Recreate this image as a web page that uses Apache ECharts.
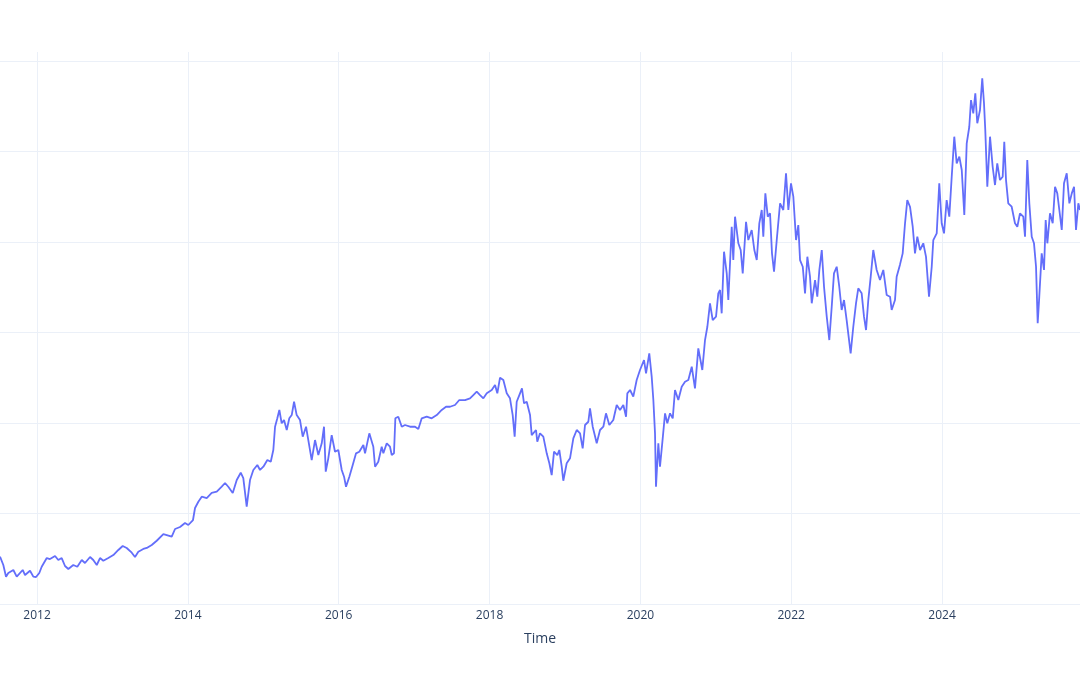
<!DOCTYPE html>
<html>
<head>
<meta charset="utf-8">
<script src="https://cdn.jsdelivr.net/npm/echarts@6/dist/echarts.min.js"></script>
<style>
  html, body { margin: 0; padding: 0; background: #fff; }
  #chart { width: 1080px; height: 675px; }
</style>
</head>
<body>
<div id="chart"></div>
<script>
// time as decimal years
const times = [
  2011.509, 2011.553, 2011.589, 2011.619, 2011.686, 2011.708, 2011.731, 2011.752, 2011.810, 2011.841,
  2011.907, 2011.951, 2011.987, 2012.030, 2012.062, 2012.129, 2012.172, 2012.239, 2012.282, 2012.327,
  2012.371, 2012.415, 2012.481, 2012.534, 2012.593, 2012.636, 2012.703, 2012.746, 2012.792, 2012.835,
  2012.879, 2012.945, 2013.012, 2013.078, 2013.136, 2013.189, 2013.256, 2013.299, 2013.343, 2013.409,
  2013.455, 2013.521, 2013.587, 2013.675, 2013.720, 2013.786, 2013.830, 2013.896, 2013.962, 2014.006,
  2014.068, 2014.095, 2014.139, 2014.184, 2014.250, 2014.316, 2014.383, 2014.449, 2014.493, 2014.536,
  2014.595, 2014.648, 2014.701, 2014.735, 2014.780, 2014.824, 2014.868, 2014.921, 2014.957, 2015.001,
  2015.054, 2015.099, 2015.133, 2015.156, 2015.186, 2015.213, 2015.244, 2015.275, 2015.311, 2015.345,
  2015.377, 2015.408, 2015.443, 2015.487, 2015.523, 2015.567, 2015.597, 2015.642, 2015.686, 2015.730,
  2015.775, 2015.805, 2015.828, 2015.862, 2015.907, 2015.951, 2015.995, 2016.040, 2016.071, 2016.097,
  2016.141, 2016.186, 2016.230, 2016.273, 2016.327, 2016.349, 2016.406, 2016.459, 2016.482, 2016.525,
  2016.570, 2016.592, 2016.637, 2016.680, 2016.703, 2016.733, 2016.751, 2016.790, 2016.836, 2016.879,
  2016.946, 2017.012, 2017.056, 2017.101, 2017.167, 2017.233, 2017.300, 2017.366, 2017.423, 2017.476,
  2017.542, 2017.599, 2017.675, 2017.741, 2017.785, 2017.830, 2017.874, 2017.918, 2017.963, 2018.029,
  2018.073, 2018.103, 2018.139, 2018.183, 2018.228, 2018.271, 2018.307, 2018.333, 2018.360, 2018.395,
  2018.430, 2018.457, 2018.493, 2018.537, 2018.559, 2018.616, 2018.633, 2018.669, 2018.713, 2018.758,
  2018.793, 2018.824, 2018.855, 2018.899, 2018.925, 2018.957, 2018.978, 2019.023, 2019.067, 2019.111,
  2019.156, 2019.200, 2019.235, 2019.266, 2019.310, 2019.332, 2019.368, 2019.421, 2019.465, 2019.509,
  2019.544, 2019.588, 2019.641, 2019.686, 2019.730, 2019.774, 2019.810, 2019.827, 2019.863, 2019.906,
  2019.951, 2019.995, 2020.048, 2020.075, 2020.118, 2020.150, 2020.172, 2020.194, 2020.207, 2020.238,
  2020.260, 2020.296, 2020.327, 2020.357, 2020.393, 2020.429, 2020.459, 2020.503, 2020.548, 2020.592,
  2020.636, 2020.681, 2020.724, 2020.768, 2020.821, 2020.857, 2020.888, 2020.923, 2020.959, 2021.003,
  2021.033, 2021.056, 2021.078, 2021.109, 2021.145, 2021.166, 2021.211, 2021.232, 2021.255, 2021.299,
  2021.330, 2021.357, 2021.401, 2021.431, 2021.476, 2021.511, 2021.543, 2021.577, 2021.609, 2021.630,
  2021.657, 2021.689, 2021.719, 2021.745, 2021.772, 2021.808, 2021.852, 2021.895, 2021.931, 2021.962,
  2021.997, 2022.028, 2022.064, 2022.094, 2022.117, 2022.153, 2022.183, 2022.214, 2022.249, 2022.272,
  2022.316, 2022.346, 2022.373, 2022.405, 2022.435, 2022.471, 2022.505, 2022.537, 2022.567, 2022.603,
  2022.637, 2022.669, 2022.700, 2022.735, 2022.756, 2022.788, 2022.823, 2022.859, 2022.889, 2022.934,
  2022.965, 2022.992, 2023.022, 2023.054, 2023.088, 2023.133, 2023.177, 2023.221, 2023.266, 2023.310,
  2023.332, 2023.376, 2023.398, 2023.442, 2023.478, 2023.509, 2023.539, 2023.575, 2023.611, 2023.641,
  2023.672, 2023.708, 2023.751, 2023.787, 2023.827, 2023.863, 2023.884, 2023.929, 2023.963, 2023.995,
  2024.026, 2024.061, 2024.096, 2024.128, 2024.162, 2024.194, 2024.229, 2024.261, 2024.295, 2024.327,
  2024.361, 2024.384, 2024.414, 2024.441, 2024.467, 2024.503, 2024.533, 2024.556, 2024.573, 2024.600,
  2024.636, 2024.671, 2024.702, 2024.732, 2024.768, 2024.804, 2024.825, 2024.848, 2024.878, 2024.923,
  2024.967, 2024.998, 2025.033, 2025.077, 2025.100, 2025.130, 2025.157, 2025.189, 2025.219, 2025.246,
  2025.268, 2025.289, 2025.321, 2025.352, 2025.374, 2025.396, 2025.431, 2025.467, 2025.498, 2025.528,
  2025.555, 2025.587, 2025.617, 2025.653, 2025.688, 2025.720, 2025.750, 2025.776, 2025.807, 2025.829
]

const values = [
  5.23, 4.31, 3.02, 3.43, 3.76, 3.98, 3.02, 2.87, 3.76, 3.20,
  3.68, 3.02, 2.98, 3.43, 4.12, 5.08, 4.97, 5.30, 4.86, 5.08,
  4.20, 3.87, 4.31, 4.12, 4.86, 4.53, 5.19, 4.86, 4.31, 5.08,
  4.78, 5.08, 5.41, 5.97, 6.41, 6.19, 5.67, 5.19, 5.78, 6.08,
  6.19, 6.52, 6.99, 7.73, 7.62, 7.44, 8.29, 8.51, 8.95, 8.73,
  9.28, 10.61, 11.30, 11.86, 11.71, 12.27, 12.41, 12.96, 13.37, 12.96,
  12.27, 13.70, 14.51, 13.92, 10.75, 13.70, 14.81, 15.36, 14.81, 15.17,
  15.91, 15.72, 17.02, 19.59, 20.52, 21.44, 19.97, 20.33, 19.23, 20.52,
  20.88, 22.35, 20.88, 20.33, 18.49, 19.59, 18.12, 15.91, 18.12, 16.46,
  17.76, 19.59, 14.62, 16.10, 18.67, 16.83, 17.02, 14.81, 14.07, 12.96,
  14.07, 15.36, 16.65, 16.83, 17.57, 16.65, 18.86, 17.38, 15.17, 15.72,
  17.38, 16.65, 17.76, 17.38, 16.46, 16.65, 20.52, 20.70, 19.59, 19.78,
  19.59, 19.59, 19.34, 20.52, 20.70, 20.52, 20.88, 21.44, 21.80, 21.80,
  21.99, 22.54, 22.54, 22.73, 23.09, 23.46, 23.09, 22.73, 23.28, 23.65,
  24.20, 23.28, 25.01, 24.75, 23.28, 22.73, 20.88, 18.49, 22.35, 23.09,
  23.83, 22.18, 22.35, 20.88, 18.67, 19.23, 17.93, 18.86, 18.49, 16.65,
  15.55, 14.25, 16.83, 16.46, 17.02, 15.17, 13.62, 15.55, 16.10, 18.31,
  19.23, 18.86, 17.20, 19.78, 20.14, 21.62, 19.59, 17.76, 19.23, 19.59,
  21.07, 19.78, 20.33, 21.99, 21.44, 21.99, 20.70, 23.28, 23.65, 22.91,
  24.75, 25.86, 26.96, 25.49, 27.70, 25.12, 22.54, 18.86, 12.96, 17.76,
  15.17, 18.31, 21.07, 19.97, 21.07, 20.52, 23.65, 22.54, 24.01, 24.56,
  24.75, 26.22, 23.83, 28.25, 25.86, 29.17, 30.64, 33.23, 31.38, 31.75,
  34.33, 34.70, 32.12, 38.93, 36.54, 33.59, 41.69, 38.01, 42.80, 39.86,
  39.12, 36.54, 42.24, 40.22, 41.33, 39.12, 38.01, 42.07, 43.54, 40.59,
  45.38, 42.80, 43.17, 38.75, 36.72, 40.22, 44.28, 43.54, 47.59, 43.54,
  46.49, 45.01, 40.22, 41.88, 38.01, 37.27, 34.33, 38.38, 36.17, 33.23,
  35.80, 33.96, 36.91, 39.12, 35.06, 31.75, 29.17, 32.85, 36.54, 37.27,
  35.06, 32.49, 33.59, 31.38, 29.91, 27.70, 30.64, 33.23, 34.88, 34.33,
  31.75, 30.28, 33.59, 36.17, 39.12, 36.91, 35.80, 36.91, 34.14, 33.96,
  32.49, 33.59, 36.17, 37.50, 38.75, 42.07, 44.64, 43.90, 41.69, 38.75,
  40.59, 39.12, 39.86, 38.38, 33.96, 37.27, 40.22, 40.96, 46.49, 42.07,
  40.96, 44.64, 42.80, 47.22, 51.64, 48.70, 49.43, 47.96, 42.98, 50.91,
  52.74, 55.69, 54.22, 56.43, 53.12, 54.59, 58.09, 55.33, 52.38, 46.11,
  51.64, 48.32, 46.30, 48.70, 46.85, 47.22, 51.08, 46.85, 44.28, 43.90,
  42.07, 41.69, 43.17, 42.80, 40.59, 49.06, 44.28, 40.59, 39.86, 37.27,
  31.02, 33.96, 38.75, 36.91, 42.43, 39.86, 43.17, 42.07, 46.11, 45.38,
  43.54, 41.33, 46.49, 47.59, 44.28, 45.38, 46.11, 41.33, 44.28, 43.54
]

const yearTicks = [2012, 2014, 2016, 2018, 2020, 2022, 2024]

const seriesData = times.map((t, i) => [t, values[i]])

const chart = echarts.init(document.getElementById('chart'))

const option = {
  animation: false,
  backgroundColor: '#fff',
  grid: {
    left: 0,
    right: 0,
    top: 52,
    bottom: 71
  },
  xAxis: {
    type: 'value',
    min: times[0],
    max: times[times.length - 1],
    name: 'Time',
    nameLocation: 'middle',
    nameGap: 28,
    nameTextStyle: {
      color: '#2a3f5f',
      fontSize: 14,
      fontFamily: 'Open Sans'
    },
    axisLine: { show: false },
    axisTick: { show: false, customValues: yearTicks },
    axisLabel: {
      customValues: yearTicks,
      margin: 6,
      color: '#2a3f5f',
      fontSize: 12,
      fontFamily: 'Open Sans',
      formatter: v => String(Math.round(v))
    },
    splitLine: {
      show: true,
      lineStyle: { color: '#ebf0f8', width: 1 }
    }
  },
  yAxis: {
    type: 'value',
    min: 0,
    max: 61,
    interval: 10,
    axisLine: { show: false },
    axisTick: { show: false },
    axisLabel: { show: false },
    splitLine: {
      showMaxLine: false,
      lineStyle: { color: '#ebf0f8', width: 1 }
    }
  },
  series: [
    {
      type: 'line',
      data: seriesData,
      showSymbol: false,
      lineStyle: { color: '#636efa', width: 1.8 },
      itemStyle: { color: '#636efa' }
    }
  ]
}

chart.setOption(option)

window.addEventListener('resize', () => {
  chart.resize()
})
</script>
</body>
</html>
